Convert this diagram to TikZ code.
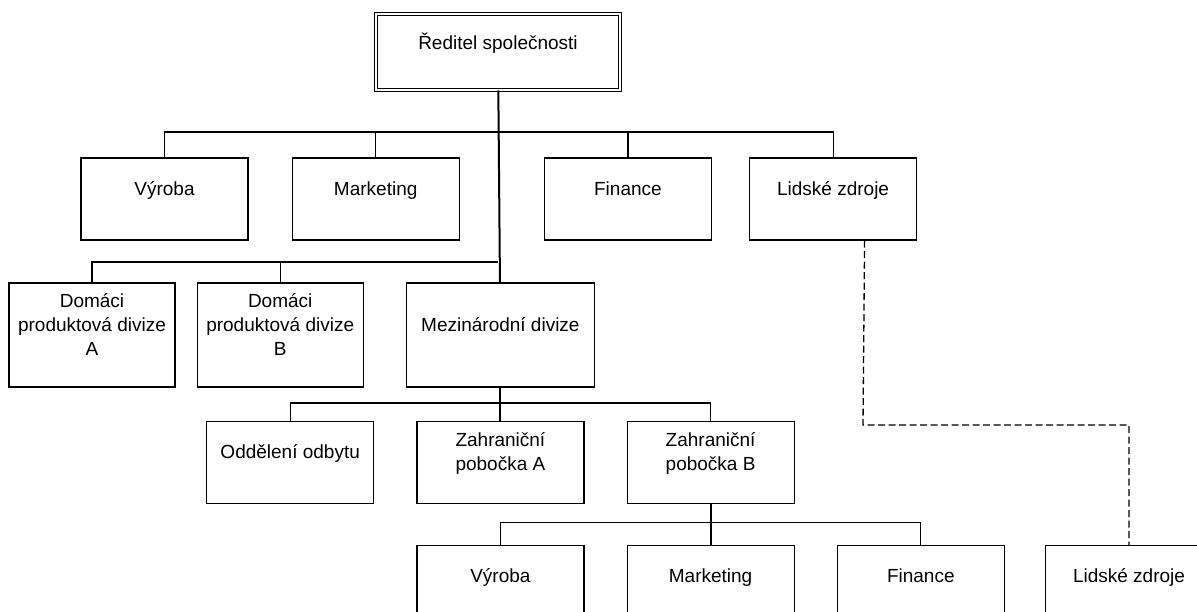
\documentclass[tikz,border=0pt]{standalone}
\usepackage{fontspec}
\setmainfont{Liberation Sans}
\usetikzlibrary{positioning}

\begin{document}
\begin{tikzpicture}[x=1pt,y=-1pt,node distance=42pt]
        \tikzstyle{unit}=[draw,line width=1.2pt,minimum width=167pt,minimum height=82pt,inner sep=2pt,align=center,font=\fontsize{19}{24}\selectfont,text depth=21.5pt]
        \tikzstyle{tall}=[minimum width=166pt,minimum height=104pt]
        \tikzstyle{link}=[line width=1.2pt]
        \tikzstyle{trunk}=[line width=2pt]
        \tikzstyle{hrlink}=[line width=1.3pt,dash pattern=on 7pt off 3.5pt]
        \useasboundingbox (0,0) rectangle (1197,612);
        \clip (0,0) rectangle (1197,612);

        \node[unit,double,double distance=2pt,line width=1pt,minimum width=244pt,minimum height=76pt]
                                    (reditel)     at (498,52)                   {Ředitel společnosti};
        % first level
        \node[unit]                 (vyroba)      at (164.5,199)                {Výroba};
        \node[unit]                 (marketing)   [right=43pt of vyroba]        {Marketing};
        \node[unit]                 (finance)     [right=84pt of marketing]     {Finance};
        \node[unit]                 (lidske)      [right=37pt of finance]       {Lidské zdroje};
        % divisions
        \node[unit,tall]            (domaciA)     at (92,335)                   {Domáci\\produktová divize\\A};
        \node[unit,tall]            (domaciB)     [right=21pt of domaciA]       {Domáci\\produktová divize\\B};
        \node[unit,tall,minimum width=188pt]
                                    (mezinarodni) [right=of domaciB]            {Mezinárodní divize};
        % international division
        \node[unit]                 (pobockaA)    [below=33pt of mezinarodni]   {Zahraniční\\pobočka A};
        \node[unit]                 (odbyt)       [left=of pobockaA]            {Oddělení odbytu};
        \node[unit]                 (pobockaB)    [right=of pobockaA]           {Zahraniční\\pobočka B};
        % branch B
        \node[unit]                 (marketing2)  [below=41pt of pobockaB]      {Marketing};
        \node[unit]                 (vyroba2)     [left=of marketing2]          {Výroba};
        \node[unit]                 (finance2)    [right=of marketing2]         {Finance};
        \node[unit]                 (lidske2)     [right=40pt of finance2]      {Lidské zdroje};

        \coordinate (bus1)   at (498,132);
        \coordinate (bus2)   at (498,262);
        \coordinate (bus3)   at (498,403);
        \coordinate (bus4)   at (707,522.5);
        \coordinate (hrbend) at (863,425);

        \draw[trunk] (reditel) -- (mezinarodni);
        \draw[link]  (vyroba.north) |- (bus1) -| (lidske.north);
        \draw[link]  (marketing.north) -- (marketing.north |- bus1);
        \draw[link]  (finance.north) -- (finance.north |- bus1);
        \draw[link]  (domaciA.north) |- (bus2);
        \draw[link]  (domaciB.north) -- (domaciB.north |- bus2);
        \draw[trunk] (mezinarodni) -- (pobockaA);
        \draw[link]  (odbyt.north) |- (bus3) -| (pobockaB.north);
        \draw[trunk] (pobockaB) -- (marketing2);
        \draw[link]  (vyroba2.north) |- (bus4) -| (finance2.north);
        \draw[hrlink] ([xshift=31.5pt]lidske.south) -- (hrbend) -| (lidske2.north);
\end{tikzpicture}
\end{document}
